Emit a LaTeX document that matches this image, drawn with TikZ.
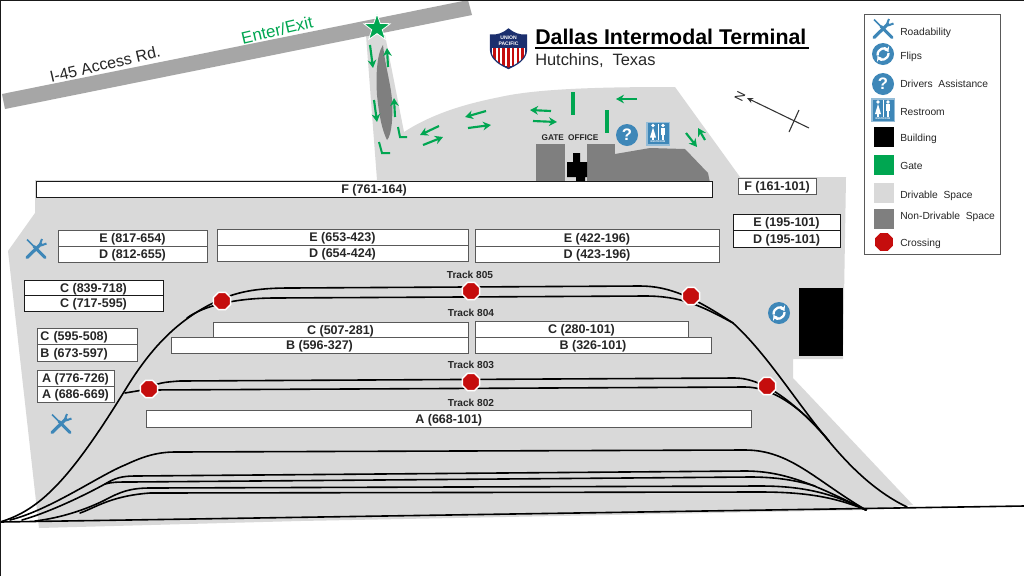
\documentclass[tikz,border=0pt]{standalone}
\usepackage{fontspec}
\setmainfont{Liberation Sans}
\usetikzlibrary{shapes.geometric,arrows.meta}
\definecolor{drv}{HTML}{D9D9D9}
\definecolor{ndrv}{HTML}{7F7F7F}
\definecolor{roadg}{HTML}{A6A6A6}
\definecolor{gren}{HTML}{00A651}
\definecolor{iconb}{HTML}{3E87B8}
\definecolor{redx}{HTML}{C50D0D}
\definecolor{navy}{HTML}{1B2F6E}
\definecolor{txtg}{HTML}{262626}
\newcommand{\fsz}[1]{\fontsize{#1}{#1}\selectfont}
\newcommand{\bx}[7][]{\node[tbox,minimum width={(#4-#2)*0.75pt},minimum height={(#5-#3)*0.75pt},#1] (#6) at ({(#2+#4)/2},{(#3+#5)/2}) {#7};}
\tikzset{
  tbox/.style={draw=black!65,fill=white,line width=0.75pt,inner sep=0pt,font=\bfseries\fsz{9.4},text=txtg,text height=6.8pt,text depth=0pt},
  kbox/.style={draw=black!90},
  lft/.style={text width=70pt,align=left},
  trk/.style={draw=black,line width=1.2pt,line cap=round},
  xing/.style={regular polygon,regular polygon sides=8,fill=redx,draw=white,line width=1.1pt,minimum size=14pt,inner sep=0pt},
  garrow/.style={draw=gren,line width=1.6pt,-{Stealth[length=6pt,width=6.5pt]}},
  gline/.style={draw=gren,line width=1.5pt},
  gate/.style={draw=gren,line width=3pt},
  tracklab/.style={font=\bfseries\fsz{7.6},text=txtg,inner sep=0pt},
  legtxt/.style={font=\fsz{7.7},text=txtg,anchor=base west,inner sep=0pt},
  legsw/.style={draw=none,minimum width=15pt,minimum height=15pt,inner sep=0pt},
  wrenchicon/.pic={
    \draw[iconb,line width=1.1pt] (-9,-9.5) -- (-2,-2.5);
    \draw[iconb,line width=2.2pt,line cap=round] (-2,-2.5) -- (9,8.5);
    \draw[iconb,line width=2.4pt,line cap=round] (-9,8.5) -- (5,-5);
    \draw[iconb,line width=1.5pt] (4,-5) -- (6,-10);
    \draw[iconb,line width=1.5pt] (5,-3.5) -- (10.5,-5.5);
  },
  flipicon/.pic={
    \fill[iconb] (0,0) circle[radius=11];
    \draw[white,line width=1.7pt,-{Stealth[length=3.6pt,width=5pt]}] (-5.5,1.5) .. controls (-5.5,-6) and (2.5,-7) .. (5.5,-2);
    \draw[white,line width=1.7pt,-{Stealth[length=3.6pt,width=5pt]}] (5.5,-1) .. controls (5.5,6) and (-2.5,7) .. (-5.5,2);
  },
  qicon/.pic={
    \fill[iconb] (0,0) circle[radius=11];
    \node[text=white,font=\bfseries\fsz{12.5},inner sep=0pt] at (0,0) {?};
  },
  wcicon/.pic={
    \fill[iconb!55] (-12,-12) rectangle (12,12);
    \fill[iconb] (-10.5,-10.5) rectangle (10.5,10.5);
    \fill[white] (-5,-8) circle[radius=1.9];
    \fill[white] (-5,-6) -- (-2,4) -- (-8,4) -- cycle;
    \fill[white] (-6,3) rectangle (-4,6.5);
    \fill[white] (5,-8) circle[radius=1.9];
    \fill[white] (2.7,-6) rectangle (7.3,1);
    \fill[white] (3.6,0) rectangle (6.4,6.5);
    \fill[white] (-0.4,-10) rectangle (0.4,6.5);
    \node[text=white,font=\bfseries\fsz{1.9},inner sep=0pt] at (0,8.5) {RESTROOM};
  }
}
\begin{document}
\begin{tikzpicture}[x=0.75pt,y=-0.75pt]
\useasboundingbox (0,0) rectangle (1024,576);
\fill[white] (0,0) rectangle (1024,576);
% drivable space
\fill[drv] (366,35) -- (377,180) -- (35,180) -- (35,213) -- (8,251) -- (39,528) -- (300,521) -- (865,510) -- (913,505) -- (793,378) -- (793,359) -- (843,359) -- (846,177) -- (740,177) -- (675,87)
  .. controls (610,87) and (540,88) .. (500,97) .. controls (470,103) and (435,112) .. (404,132) -- (385,35) -- cycle;
% road
\fill[roadg] (2,94) -- (468,0) -- (472,15) -- (5,109) -- cycle;
\node[rotate=13,font=\fsz{12},text=txtg,inner sep=0pt] (roadlab) at (105,64) {I-45 Access Rd.};
\node[rotate=13,font=\fsz{12.6},text=gren,inner sep=0pt] (enterlab) at (277,30) {Enter/Exit};
% non-drivable
\fill[ndrv] (383,45) .. controls (376,55) and (376,80) .. (377,95) .. controls (379,115) and (382,130) .. (387,140) .. controls (392,135) and (393,115) .. (392,100) .. controls (391,85) and (385,65) .. (383,45) -- cycle;
\fill[ndrv] (536,144) rectangle (565,182);
\fill[ndrv] (587,144) rectangle (615,182);
\fill[ndrv] (615,154) -- (650,148) -- (685,149) -- (708,173) -- (710,183) -- (615,182) -- cycle;
\fill[black] (573,153) -- (580,153) -- (580,162) -- (587,162) -- (587,177) -- (585,177) -- (585,181) -- (576,181) -- (576,177) -- (567,177) -- (567,162) -- (573,162) -- cycle;
\node[font=\bfseries\fsz{6.2},text=txtg,inner sep=0pt] (gatelab) at (570,137.5) {GATE\hspace{0.5em}OFFICE};
% star
\node[star,star points=5,star point ratio=2.5,fill=gren,draw=white,line width=0.6pt,minimum size=21pt,inner sep=0pt] (starnode) at (377,28) {};
% green arrows
\draw[garrow] (370,45) -- (373,68);
\draw[garrow] (388,67) -- (387,48);
\draw[garrow] (374,100) -- (377,122);
\draw[garrow] (395,117) -- (394,98);
\draw[gline] (398,127) -- (400,137) -- (407,137);
\draw[gline] (379,142) -- (382,153) -- (390,153);
\draw[garrow] (439,126) -- (420,135);
\draw[garrow] (423,145) -- (443,137);
\draw[garrow] (486,111) -- (465,117);
\draw[garrow] (468,128) -- (491,125);
\draw[garrow] (551,111) -- (530,110);
\draw[garrow] (533,121) -- (557,122);
\draw[garrow] (637,99) -- (616,99);
\draw[garrow] (686,133) -- (697,147);
\draw[garrow] (705,140) -- (698,128);
\draw[gate] (573,92) -- (573,115);
\draw[gate] (607,110) -- (607,133);
% boxes
\bx[kbox]{36}{181}{712}{197}{fbig}{F (761-164)}
\bx{738}{178}{816}{194}{f161}{F (161-101)}
\bx[kbox]{733}{214}{840}{230}{e195}{E (195-101)}
\bx[kbox]{733}{230}{840}{247}{d195}{D (195-101)}
\bx{58}{230}{207}{246}{e817}{E (817-654)}
\bx{58}{246}{207}{262}{d812}{D (812-655)}
\bx{217}{229}{468}{245}{e653}{E (653-423)}
\bx{217}{245}{468}{261}{d654}{D (654-424)}
\bx{475}{229}{719}{246}{e422}{E (422-196)}
\bx{475}{246}{719}{262}{d423}{D (423-196)}
\bx[kbox]{24}{280}{163}{295}{c839}{C (839-718)}
\bx[kbox]{24}{295}{163}{311}{c717}{C (717-595)}
\bx[lft]{37}{328}{137}{344}{c595}{C (595-508)}
\bx[lft]{37}{344}{137}{361}{b673}{B (673-597)}
\bx{37}{370}{114}{386}{a776}{A (776-726)}
\bx{37}{386}{114}{402}{a686}{A (686-669)}
\bx{213}{322}{468}{337}{c507}{C (507-281)}
\bx{171}{337}{468}{353}{b596}{B (596-327)}
\bx{475}{321}{688}{337}{c280}{C (280-101)}
\bx{475}{337}{711}{353}{b326}{B (326-101)}
\bx{146.5}{410}{751}{427}{a668}{A (668-101)}
% track labels
\node[tracklab] (t805) at (470,275) {Track 805};
\node[tracklab] (t804) at (471,313) {Track 804};
\node[tracklab] (t803) at (471,365) {Track 803};
\node[tracklab] (t802) at (471,403) {Track 802};
% baseline
\coordinate (bl) at (0,522);
\coordinate (br) at (1024,506);
\draw[trk] (bl) -- (br);
% tracks 805 / 804
\draw[trk] (bl) .. controls (40,510) and (70,480) .. (127,387) .. controls (150,350) and (175,322) .. (213,303) .. controls (235,292) and (255,288) .. (290,288) -- (640,286) .. controls (670,286) and (695,298) .. (733,323) .. controls (790,375) and (830,470) .. (907,507);
\draw[trk] (187,318) .. controls (203,306) and (235,298) .. (275,298) -- (645,296) .. controls (680,296) and (700,305) .. (733,323);
% tracks 803 / 802 siding
\draw[trk] (125,393) -- (149,389) .. controls (155,383) and (165,382) .. (180,381) -- (735,378) .. controls (765,378) and (800,407) .. (829,441);
\draw[trk] (149,390) -- (745,387) .. controls (770,387) and (800,405) .. (829,441);
% yard tracks
\draw[trk] (10,520) .. controls (50,510) and (100,475) .. (125,465) .. controls (140,458) and (155,452) .. (175,452) -- (745,450) .. controls (790,450) and (815,480) .. (866,510);
\draw[trk] (22,520) .. controls (50,512) and (85,495) .. (105,484) .. controls (115,478) and (122,476) .. (135,476) -- (745,471) .. controls (785,471) and (815,485) .. (866,510);
\draw[trk] (105,484) .. controls (112,482) and (118,482) .. (130,482) -- (750,477) .. controls (775,477) and (795,480) .. (815,486);
\draw[trk] (35,521) .. controls (60,518) and (85,510) .. (105,500) .. controls (120,492) and (130,488) .. (150,488) -- (760,486) .. controls (800,486) and (830,492) .. (866,510);
\draw[trk] (80,513) .. controls (95,508) and (110,496) .. (150,493) -- (760,492) .. controls (805,492) and (835,497) .. (866,510);
% crossings
\node[xing] (x1) at (222,301) {};
\node[xing] (x2) at (471,291) {};
\node[xing] (x3) at (691,296) {};
\node[xing] (x4) at (149,389) {};
\node[xing] (x5) at (471,382) {};
\node[xing] (x6) at (767,386) {};
% building
\fill[black] (799,288) rectangle (843,356);
% icons on the map
\pic at (36,249) {wrenchicon};
\pic at (61,424) {wrenchicon};
\pic at (779,313) {flipicon};
\pic at (627,135) {qicon};
\pic at (658,133.5) {wcicon};
% logo
\begin{scope}
\path[clip] (490.5,35) .. controls (497,36) and (504,33) .. (508.5,29) .. controls (513,33) and (520,36) .. (526.5,35) -- (526.5,50) .. controls (526,60) and (516,65) .. (508.5,68.5) .. controls (501,65) and (491,60) .. (490.5,50) -- cycle;
\fill[navy] (488,27) rectangle (529,70);
\fill[white] (492,48) rectangle (525,66);
\foreach \sx in {493,497.7,502.4,507.1,511.8,516.5,521.2}{\fill[redx] (\sx,48) rectangle (\sx+2.6,70);}
\end{scope}
\draw[navy,line width=0.9pt] (490.5,35) .. controls (497,36) and (504,33) .. (508.5,29) .. controls (513,33) and (520,36) .. (526.5,35) -- (526.5,50) .. controls (526,60) and (516,65) .. (508.5,68.5) .. controls (501,65) and (491,60) .. (490.5,50) -- cycle;
\node[text=white,font=\bfseries\fsz{3.8},inner sep=0pt] (logo1) at (508.5,37.5) {UNION};
\node[text=white,font=\bfseries\fsz{3.8},inner sep=0pt] (logo2) at (508.5,43.5) {PACIFIC};
% title
\node[font=\bfseries\fsz{16},text=black,anchor=base west,inner sep=0pt] (title) at (535,44) {Dallas Intermodal Terminal};
\draw[black,line width=1.5pt] (535,47.5) -- (808.5,47.5);
\node[font=\fsz{12.3},text=txtg,anchor=base west,inner sep=0pt] (subtitle) at (535,65) {Hutchins,\hspace{0.55em}Texas};
% north
\draw[black!80,line width=0.8pt,-{Stealth[length=4.5pt,width=4pt]}] (809,128) -- (747,98);
\draw[black!80,line width=0.8pt] (799,110) -- (789,132);
\node[rotate=64,font=\fsz{9.5},text=txtg,inner sep=0pt] (northlab) at (740,96) {N};
% legend
\node[draw=black!65,fill=white,line width=0.75pt,minimum width=102.5pt,minimum height=180.5pt,inner sep=0pt] (legend) at (932.5,134.5) {};
\pic at (883,29) {wrenchicon};
\pic at (883,54) {flipicon};
\pic at (883,84) {qicon};
\pic at (883,110) {wcicon};
\node[legsw,fill=black] (s1) at (883.5,137) {};
\node[legsw,fill=gren] (s2) at (883.5,165) {};
\node[legsw,fill=drv] (s3) at (883.5,193) {};
\node[legsw,fill=ndrv] (s4) at (883.5,219) {};
\node[regular polygon,regular polygon sides=8,fill=redx,minimum size=14.5pt,inner sep=0pt] (s5) at (884,242) {};
\node[legtxt] (l1) at (900,35) {Roadability};
\node[legtxt] (l2) at (900,59) {Flips};
\node[legtxt] (l3) at (900,87) {Drivers\hspace{0.55em}Assistance};
\node[legtxt] (l4) at (900,115) {Restroom};
\node[legtxt] (l5) at (900,141) {Building};
\node[legtxt] (l6) at (900,169) {Gate};
\node[legtxt] (l7) at (900,198) {Drivable\hspace{0.55em}Space};
\node[legtxt] (l8) at (900,219) {Non-Drivable\hspace{0.55em}Space};
\node[legtxt] (l9) at (900,246) {Crossing};
% frame
\draw[black!90,line width=1pt] (0.5,576) -- (0.5,0.5) -- (1024,0.5);
\end{tikzpicture}
\end{document}
